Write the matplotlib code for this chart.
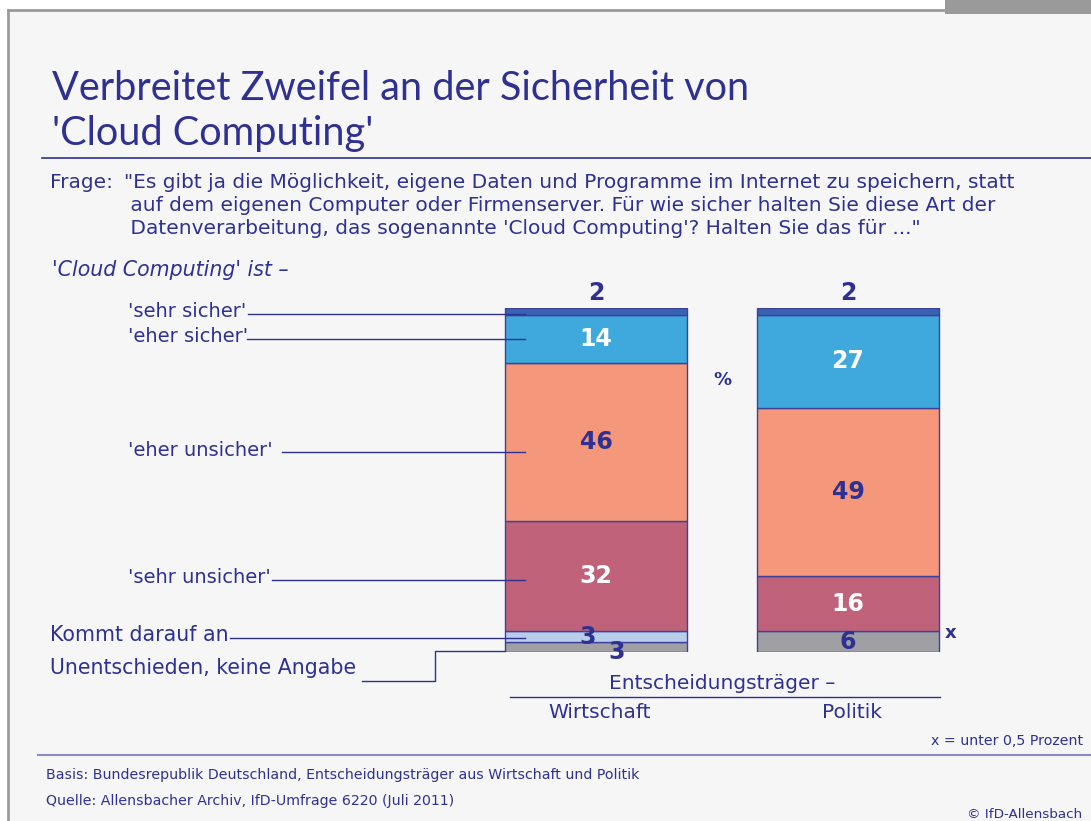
import matplotlib
matplotlib.use("Agg")
import matplotlib.pyplot as plt
from matplotlib.patches import Rectangle
from matplotlib.lines import Line2D

# data (percent)
groups = ['Wirtschaft', 'Politik']
answers = ["'sehr sicher'", "'eher sicher'", "'eher unsicher'", "'sehr unsicher'",
           'Kommt darauf an', 'Unentschieden, keine Angabe']
wirtschaft = [2, 14, 46, 32, 3, 3]
politik = [2, 27, 49, 16, 0, 6]   # 0 -> "x" = unter 0,5 Prozent
colors = ['#3763b2', '#3fa9dd', '#f5977a', '#c0627a', '#b9cdea', '#a0a0a4']
label_white = [False, True, False, True, False, False]

NAVY = '#2e3192'
FONT = 'DejaVu Sans'
TFONT = 'Lato'
W, H = 1091, 821

def fx(p):
    return p / W

def fy(p):
    return 1 - p / H

fig = plt.figure(figsize=(W / 100, H / 100), dpi=100, facecolor='white')

# frame
fig.patches.append(Rectangle((fx(8), 0), fx(W - 8), fy(10), transform=fig.transFigure,
                             facecolor='#f6f6f6', edgecolor='none', zorder=-5))
fig.add_artist(Line2D([fx(8), 1], [fy(10), fy(10)], color='#9a9a9a', lw=2))
fig.add_artist(Line2D([fx(8), fx(8)], [0, fy(10)], color='#9a9a9a', lw=2))
fig.patches.append(Rectangle((fx(945), fy(14)), fx(W - 945), 14 / H, transform=fig.transFigure,
                             facecolor='#9a9a9a', edgecolor='none'))

# title
fig.text(fx(52), fy(88), "Verbreitet Zweifel an der Sicherheit von", color=NAVY,
         fontsize=28.6, family=TFONT, va='center')
fig.text(fx(52), fy(133), "'Cloud Computing'", color=NAVY, fontsize=28.6, family=TFONT,
         va='center')
fig.add_artist(Line2D([fx(42), 1], [fy(158), fy(158)], color=NAVY, lw=1.2))

# question
fig.text(fx(50), fy(183), 'Frage:', color=NAVY, fontsize=14.5, family=FONT, va='center')
q_lines = ['"Es gibt ja die Möglichkeit, eigene Daten und Programme im Internet zu speichern, statt',
           ' auf dem eigenen Computer oder Firmenserver. Für wie sicher halten Sie diese Art der',
           ' Datenverarbeitung, das sogenannte \'Cloud Computing\'? Halten Sie das für ..."']
for i, line in enumerate(q_lines):
    fig.text(fx(124), fy(183 + i * 22.5), line, color=NAVY, fontsize=14.5, family=FONT, va='center')

fig.text(fx(52), fy(270), "'Cloud Computing' ist –", color=NAVY, fontsize=14.8,
         family=FONT, style='italic', va='center')

# bar axes: x centres 0/1, y 0..100
ax = fig.add_axes([fx(470), fy(652), fx(504), 344 / H])
ax.set_xlim(-0.5, 1.5)
ax.set_ylim(0, 100)
ax.axis('off')

bw = 0.722
for gi, vals in enumerate([wirtschaft, politik]):
    bottom = 0
    # stack from the bottom: last answer first
    for k in range(len(vals) - 1, -1, -1):
        v = vals[k]
        if v > 0:
            ax.bar(gi, v, bw, bottom=bottom, color=colors[k], edgecolor='#3d4199',
                   linewidth=1, zorder=2)
        mid = bottom + v / 2
        if v >= 5:
            ax.text(gi, mid, str(v), ha='center', va='center', fontsize=17, fontweight='bold',
                    family=FONT, color='white' if label_white[k] else NAVY, zorder=4)
        bottom += v

    # top segment value above the bar
    ax.annotate(str(vals[0]), (gi, 100), xytext=(0, 11), textcoords='offset points',
                ha='center', va='center', fontsize=17, fontweight='bold', family=FONT,
                color=NAVY, annotation_clip=False)

# Wirtschaft: the two 3s
kd = wirtschaft[4]
ud = wirtschaft[5]
ax.annotate(str(kd), (0, ud + kd / 2), xytext=(-6, 0), textcoords='offset points', ha='center',
            va='center', fontsize=17, fontweight='bold', family=FONT, color=NAVY, zorder=5)
ax.annotate(str(ud), (0, ud / 2), xytext=(15, -4), textcoords='offset points', ha='center',
            va='center', fontsize=17, fontweight='bold', family=FONT, color=NAVY, zorder=5,
            annotation_clip=False)
# Politik: x for under 0,5
ax.annotate('x', (1 + bw / 2, politik[5]), xytext=(8, -1), textcoords='offset points',
            ha='center', va='center', fontsize=13, fontweight='bold', family=FONT, color=NAVY)

ax.text(0.5, 79, '%', ha='center', va='center', fontsize=13, fontweight='bold',
        family=FONT, color=NAVY)

# answer labels with leader lines to the Wirtschaft bar
def dx(p):
    return (p - 470) / 252 - 0.5

centres = []
b = 100
for v in wirtschaft:
    centres.append(b - v / 2)
    b -= v

label_x = [128, 128, 128, 128, 50]
label_size = [14, 14, 14, 14, 14.8]
line_start = [248, 247, 282, 272, 230]
line_shift = [-0.7, 0, -3, -1, -0.3]
for k in range(5):
    y = centres[k] + line_shift[k]
    ax.text(dx(label_x[k]), y + 0.6, answers[k], ha='left', va='center', fontsize=label_size[k],
            family=FONT, color=NAVY, clip_on=False)
    ax.plot([dx(line_start[k]), dx(525)], [y, y], color=NAVY, lw=1, clip_on=False, zorder=3)

# Unentschieden: elbow line
ax.text(dx(50), -4.7, answers[5], ha='left', va='center', fontsize=14.8, family=FONT,
        color=NAVY, clip_on=False)
ax.plot([dx(362), dx(435), dx(435), dx(505)], [-8.4, -8.4, 0.4, 0.4],
        color=NAVY, lw=1, clip_on=False, zorder=3)

# group axis labels
fig.text(fx(722), fy(683), 'Entscheidungsträger –', color=NAVY, fontsize=14.5, family=FONT,
         ha='center', va='center')
fig.add_artist(Line2D([fx(510), fx(940)], [fy(697), fy(697)], color=NAVY, lw=1))
for gi, name in enumerate(groups):
    x0 = ax.transData.transform((gi, 0))[0]
    fig.text(x0 / W + fx(4), fy(713), name, color=NAVY, fontsize=14.5, family=FONT,
             ha='center', va='center')

fig.text(fx(1083), fy(741), 'x = unter 0,5 Prozent', color=NAVY, fontsize=10.2, family=FONT,
         ha='right', va='center')
fig.add_artist(Line2D([fx(38), 1], [fy(755), fy(755)], color='#8a8cc8', lw=1.5))

fig.text(fx(46), fy(775), 'Basis: Bundesrepublik Deutschland, Entscheidungsträger aus Wirtschaft und Politik',
         color=NAVY, fontsize=10.2, family=FONT, va='center')
fig.text(fx(46), fy(801), 'Quelle: Allensbacher Archiv, IfD-Umfrage 6220 (Juli 2011)',
         color=NAVY, fontsize=10.2, family=FONT, va='center')
fig.text(fx(1082), fy(814), '© IfD-Allensbach', color=NAVY, fontsize=9.7, family=FONT,
         ha='right', va='center')

fig.savefig('out.png', dpi=100, facecolor='white')
